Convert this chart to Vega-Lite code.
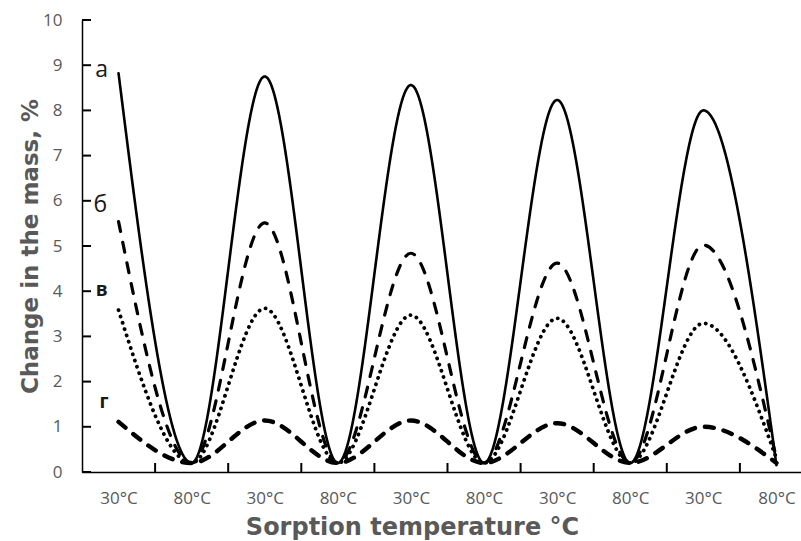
{
  "$schema": "https://vega.github.io/schema/vega-lite/v6.json",
  "autosize": "none",
  "padding": {"left": 82, "top": 20, "right": 0, "bottom": 69},
  "width": 719,
  "height": 452,
  "background": "white",
  "config": {
    "view": {"stroke": null},
    "font": "Open Sans"
  },
  "datasets": {
    "curves": [
      {"series": "а", "i": 0, "v": 8.82}, {"series": "а", "i": 1, "v": 0.2}, {"series": "а", "i": 2, "v": 8.75}, {"series": "а", "i": 3, "v": 0.2}, {"series": "а", "i": 4, "v": 8.56}, {"series": "а", "i": 5, "v": 0.2}, {"series": "а", "i": 6, "v": 8.23}, {"series": "а", "i": 7, "v": 0.2}, {"series": "а", "i": 8, "v": 8.0}, {"series": "а", "i": 9, "v": 0.15},
      {"series": "б", "i": 0, "v": 5.54}, {"series": "б", "i": 1, "v": 0.2}, {"series": "б", "i": 2, "v": 5.51}, {"series": "б", "i": 3, "v": 0.2}, {"series": "б", "i": 4, "v": 4.84}, {"series": "б", "i": 5, "v": 0.2}, {"series": "б", "i": 6, "v": 4.62}, {"series": "б", "i": 7, "v": 0.2}, {"series": "б", "i": 8, "v": 5.02}, {"series": "б", "i": 9, "v": 0.3},
      {"series": "в", "i": 0, "v": 3.58}, {"series": "в", "i": 1, "v": 0.2}, {"series": "в", "i": 2, "v": 3.62}, {"series": "в", "i": 3, "v": 0.2}, {"series": "в", "i": 4, "v": 3.47}, {"series": "в", "i": 5, "v": 0.2}, {"series": "в", "i": 6, "v": 3.4}, {"series": "в", "i": 7, "v": 0.2}, {"series": "в", "i": 8, "v": 3.29}, {"series": "в", "i": 9, "v": 0.3},
      {"series": "г", "i": 0, "v": 1.11}, {"series": "г", "i": 1, "v": 0.2}, {"series": "г", "i": 2, "v": 1.14}, {"series": "г", "i": 3, "v": 0.2}, {"series": "г", "i": 4, "v": 1.14}, {"series": "г", "i": 5, "v": 0.2}, {"series": "г", "i": 6, "v": 1.08}, {"series": "г", "i": 7, "v": 0.2}, {"series": "г", "i": 8, "v": 1.0}, {"series": "г", "i": 9, "v": 0.2}
    ],
    "yticks": [
      {"i": -0.5, "v": 0}, {"i": -0.5, "v": 1}, {"i": -0.5, "v": 2}, {"i": -0.5, "v": 3}, {"i": -0.5, "v": 4}, {"i": -0.5, "v": 5}, {"i": -0.5, "v": 6}, {"i": -0.5, "v": 7}, {"i": -0.5, "v": 8}, {"i": -0.5, "v": 9}, {"i": -0.5, "v": 10}
    ],
    "xticks": [
      {"i": 0.5, "v": 0}, {"i": 1.5, "v": 0}, {"i": 2.5, "v": 0}, {"i": 3.5, "v": 0}, {"i": 4.5, "v": 0}, {"i": 5.5, "v": 0}, {"i": 6.5, "v": 0}, {"i": 7.5, "v": 0}, {"i": 8.5, "v": 0}
    ]
  },
  "layer": [
    {
      "data": {"name": "curves"},
      "mark": {"type": "line", "interpolate": "monotone", "strokeCap": "round", "color": "black"},
      "encoding": {
        "x": {
          "field": "i", "type": "quantitative",
          "scale": {"domain": [-0.5, 9.336], "nice": false, "zero": false},
          "axis": {
            "orient": "bottom",
            "values": [0, 1, 2, 3, 4, 5, 6, 7, 8, 9],
            "labelExpr": "datum.value % 2 == 0 ? '30°C' : '80°C'",
            "ticks": false,
            "labelPadding": 18,
            "domainColor": "#000000",
            "domainWidth": 1.5,
            "grid": false,
            "labelOverlap": false,
            "labelFlush": false,
            "labelBound": false,
            "labelFont": "Open Sans",
            "labelFontSize": 17,
            "labelColor": "#595959",
            "title": "Sorption temperature °C",
            "titleFont": "DejaVu Sans",
            "titleFontSize": 24,
            "titleFontWeight": "bold",
            "titleColor": "#595959",
            "titleX": 330,
            "titleY": 55,
            "titleBaseline": "middle",
            "titleAlign": "center"
          }
        },
        "y": {
          "field": "v", "type": "quantitative",
          "scale": {"domain": [0, 10], "nice": false, "zero": false},
          "axis": {
            "orient": "left",
            "values": [0, 1, 2, 3, 4, 5, 6, 7, 8, 9, 10],
            "ticks": false,
            "labelPadding": 20,
            "domainColor": "#000000",
            "domainWidth": 1.5,
            "grid": false,
            "labelFont": "Open Sans",
            "labelFontSize": 17,
            "labelColor": "#595959",
            "title": "Change in the mass, %",
            "titleFont": "DejaVu Sans",
            "titleFontSize": 23,
            "titleFontWeight": "bold",
            "titleColor": "#595959",
            "titleX": -52,
            "titleY": 226,
            "titleBaseline": "middle",
            "titleAlign": "center",
            "titleAngle": -90
          }
        },
        "detail": {"field": "series", "type": "nominal"},
        "strokeDash": {
          "field": "series", "type": "nominal",
          "scale": {"domain": ["а", "б", "в", "г"], "range": [[1, 0], [10, 11], [0.1, 6.5], [9, 10]]},
          "legend": null
        },
        "strokeWidth": {
          "field": "series", "type": "nominal",
          "scale": {"domain": ["а", "б", "в", "г"], "range": [2.6, 4.4, 3.8, 3.8]},
          "legend": null
        }
      }
    },
    {
      "data": {"name": "yticks"},
      "mark": {"type": "tick", "orient": "horizontal", "size": 9, "thickness": 2, "xOffset": 4.5, "color": "#000000", "opacity": 1},
      "encoding": {
        "x": {"field": "i", "type": "quantitative"},
        "y": {"field": "v", "type": "quantitative"}
      }
    },
    {
      "data": {"name": "xticks"},
      "mark": {"type": "tick", "orient": "vertical", "size": 9, "thickness": 2, "yOffset": -4.5, "color": "#000000", "opacity": 1},
      "encoding": {
        "x": {"field": "i", "type": "quantitative"},
        "y": {"field": "v", "type": "quantitative"}
      }
    },
    {
      "data": {"values": [
        {"label": "а", "i": -0.23, "v": 8.89},
        {"label": "б", "i": -0.25, "v": 5.9}
      ]},
      "mark": {"type": "text", "font": "Open Sans", "fontSize": 23, "color": "#1a1a1a", "baseline": "middle", "align": "center"},
      "encoding": {
        "x": {"field": "i", "type": "quantitative"},
        "y": {"field": "v", "type": "quantitative"},
        "text": {"field": "label", "type": "nominal"}
      }
    },
    {
      "data": {"values": [
        {"label": "в", "i": -0.23, "v": 4.02},
        {"label": "г", "i": -0.2, "v": 1.54}
      ]},
      "mark": {"type": "text", "font": "Open Sans", "fontSize": 19, "fontWeight": "bold", "color": "#1a1a1a", "baseline": "middle", "align": "center"},
      "encoding": {
        "x": {"field": "i", "type": "quantitative"},
        "y": {"field": "v", "type": "quantitative"},
        "text": {"field": "label", "type": "nominal"}
      }
    }
  ]
}
